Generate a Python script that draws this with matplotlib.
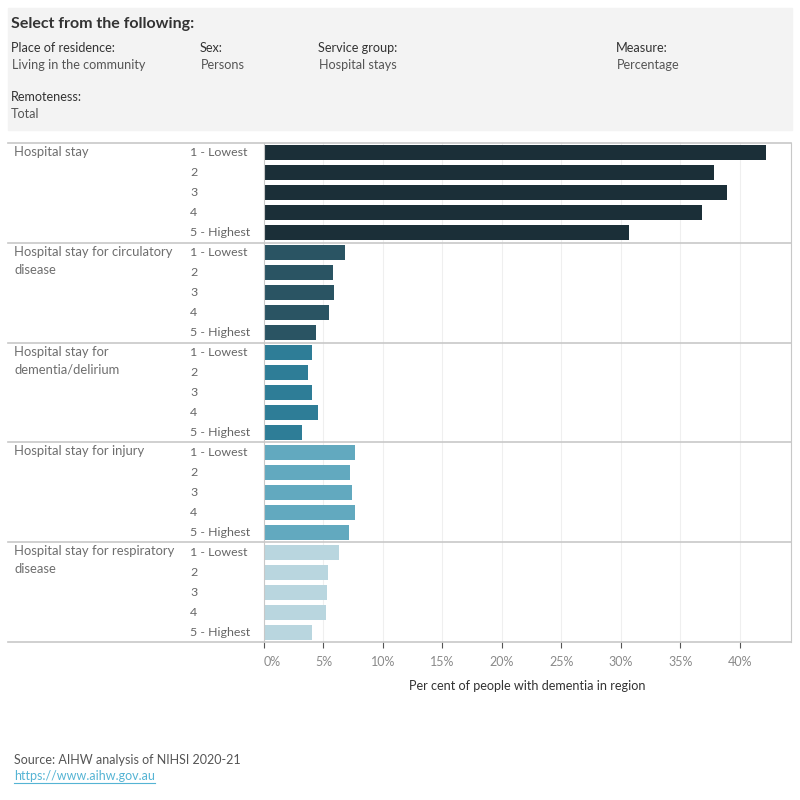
import numpy as np
import matplotlib
matplotlib.use('Agg')
import matplotlib.pyplot as plt
from matplotlib.lines import Line2D
from matplotlib.patches import Rectangle

plt.rcParams['font.family'] = ['Lato', 'DejaVu Sans']

groups = ['Hospital stay',
          'Hospital stay for circulatory\ndisease',
          'Hospital stay for\ndementia/delirium',
          'Hospital stay for injury',
          'Hospital stay for respiratory\ndisease']
quintiles = ['1 - Lowest', '2', '3', '4', '5 - Highest']
hospital_stay = [42.2, 37.8, 38.9, 36.8, 30.7]
circulatory = [6.8, 5.8, 5.9, 5.45, 4.4]
dementia = [4.0, 3.7, 4.0, 4.5, 3.2]
injury = [7.65, 7.2, 7.4, 7.65, 7.15]
respiratory = [6.3, 5.4, 5.3, 5.2, 4.0]
colors = ['#1b2f38', '#2a5463', '#2e7d97', '#62a9bf', '#b9d6df']
ticks = [0, 5, 10, 15, 20, 25, 30, 35, 40]

W, H = 800, 800
fig = plt.figure(figsize=(8, 8), dpi=100)

def fx(x): return x / W
def fy(y): return 1 - y / H

# filter panel
fig.patches.append(Rectangle((fx(8), fy(130)), fx(784), 122 / H,
                             transform=fig.transFigure, color='#f3f3f3', zorder=0))
fig.text(fx(11), fy(24), 'Select from the following:', fontsize=11.5, fontweight='bold',
         color='#333333', va='center')
heads = [(11, 'Place of residence:', 'Living in the community'),
         (200, 'Sex:', 'Persons'),
         (318, 'Service group:', 'Hospital stays'),
         (616, 'Measure:', 'Percentage')]
for x, h, v in heads:
    fig.text(fx(x), fy(48), h, fontsize=9.1, color='#333333', va='center')
    fig.text(fx(x + 1), fy(65), v, fontsize=9.1, color='#555555', va='center')
fig.text(fx(11), fy(97), 'Remoteness:', fontsize=9.1, color='#333333', va='center')
fig.text(fx(11), fy(114), 'Total', fontsize=9.1, color='#555555', va='center')

top, bot, left, right = 143, 642, 264, 791
ax = fig.add_axes([fx(left), fy(bot), fx(right - left), (bot - top) / H])

series = [hospital_stay, circulatory, dementia, injury, respiratory]
for g, vals in enumerate(series):
    ys = np.arange(5) + g * 5
    ax.barh(ys, vals, height=0.75, color=colors[g], zorder=2)

ax.set_ylim(24.5, -0.5)
ax.set_xlim(0, 44.3)
ax.set_xticks(ticks)
ax.set_xticklabels([f'{t}%' for t in ticks], fontsize=9, color='#8a8a8a')
ax.get_xticklabels()[0].set_ha('left')
ax.set_yticks([])
for t in ticks[1:]:
    ax.axvline(t, color='#efefef', lw=0.8, zorder=1)
for s in ['top', 'bottom']:
    ax.spines[s].set_visible(False)
ax.spines['left'].set_color('#c8c8c8')
ax.spines['right'].set_color('#c8c8c8')
ax.tick_params(axis='x', length=4, color='#555555', pad=6)
ax.set_xlabel('Per cent of people with dementia in region', fontsize=9.1,
              color='#333333', labelpad=9)

# group separators and row labels
for g in range(6):
    y = top + g * 99.8
    fig.add_artist(Line2D([fx(8), fx(right)], [fy(y), fy(y)], color='#c8c8c8', lw=1.2))
for g, name in enumerate(groups):
    y0 = top + g * 99.8
    fig.text(fx(14), fy(y0 + 3), name, fontsize=9.4, color='#6e6e6e', va='top',
             linespacing=1.6)
    for i, q in enumerate(quintiles):
        fig.text(fx(190), fy(y0 + 10 + i * 20), q, fontsize=8.9, color='#666666',
                 va='center')

fig.text(fx(14), fy(760), 'Source: AIHW analysis of NIHSI 2020-21', fontsize=9,
         color='#555555', va='center')
fig.text(fx(14), fy(776), 'https://www.aihw.gov.au', fontsize=9,
         color='#55b4d4', va='center')
fig.add_artist(Line2D([fx(14), fx(155)], [fy(783), fy(783)], color='#55b4d4', lw=0.8))

fig.savefig('out.png', dpi=100)
